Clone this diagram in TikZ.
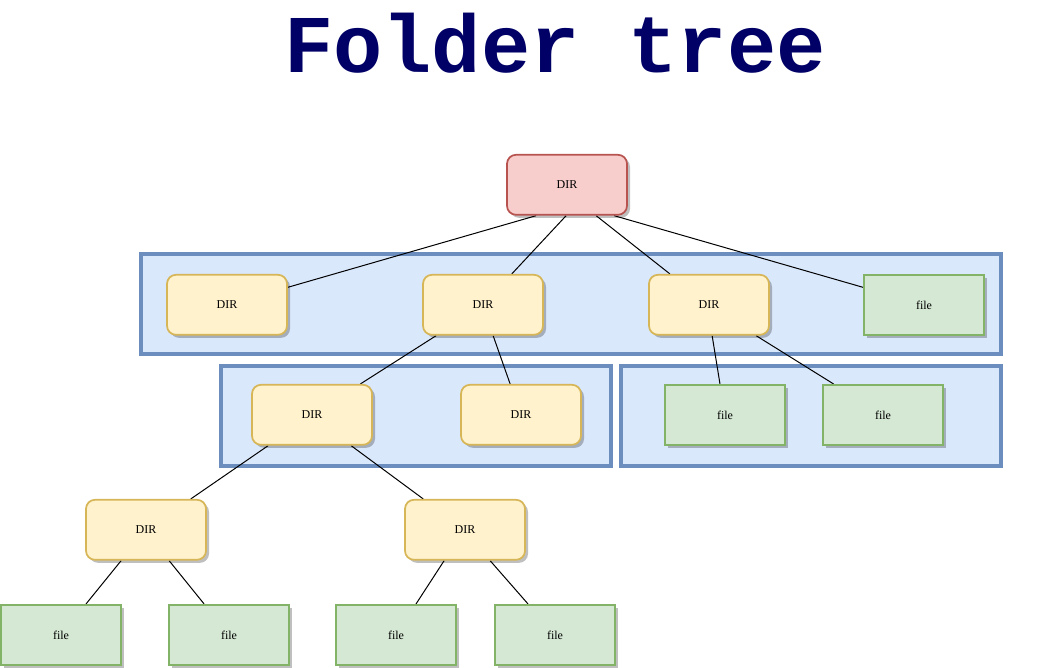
\documentclass[tikz,border=0pt]{standalone}
\usepackage{fontspec}
\setmainfont{Liberation Serif}
\newfontfamily\titlefont{Liberation Mono}
\usetikzlibrary{shadows,calc}
\pgfdeclarelayer{groups}
\pgfdeclarelayer{links}
\pgfsetlayers{groups,links,main}
\definecolor{redfill}{HTML}{F8CECC}
\definecolor{redline}{HTML}{B85450}
\definecolor{yelfill}{HTML}{FFF2CC}
\definecolor{yelline}{HTML}{D6B656}
\definecolor{grnfill}{HTML}{D5E8D4}
\definecolor{grnline}{HTML}{82B366}
\definecolor{bluefill}{HTML}{DAE8FC}
\definecolor{blueline}{HTML}{6C8EBF}
\definecolor{titlecol}{HTML}{000066}
\tikzset{
  boxbase/.style={minimum width=90pt, minimum height=45pt, inner sep=0pt, line width=1.3pt,
    font=\fontsize{9}{10}\selectfont, text depth=0pt, yshift=-0.6pt,
    drop shadow={shadow xshift=2.25pt, shadow yshift=-2.25pt, fill=black, opacity=0.25}},
  rootbox/.style={boxbase, rounded corners=6.75pt, fill=redfill, draw=redline},
  dirbox/.style={boxbase, rounded corners=6.75pt, fill=yelfill, draw=yelline},
  filebox/.style={boxbase, fill=grnfill, draw=grnline},
  groupbox/.style={fill=bluefill, draw=blueline, line width=3pt, inner sep=0pt, minimum height=75pt},
  link/.style={draw=black, line width=0.75pt}
}
\begin{document}
\begin{tikzpicture}[x=0.75pt, y=-0.75pt]
\useasboundingbox (0,0) rectangle (1061,668);
% title
\node[anchor=base, text=titlecol, inner sep=0pt, font=\titlefont\bfseries\fontsize{61.5}{70}\selectfont] (title) at (555,72) {Folder tree};
% containers
\begin{pgfonlayer}{groups}
\node[groupbox, minimum width=645pt] (c1) at (571,304) {};
\node[groupbox, minimum width=292.5pt] (c2) at (416,416) {};
\node[groupbox, minimum width=285pt] (c3) at (811,416) {};
\end{pgfonlayer}
% nodes
\node[rootbox] (root) at (567,184) {DIR};
\node[dirbox] (d1) at (227,304) {DIR};
\node[dirbox] (d2) at (483,304) {DIR};
\node[dirbox] (d3) at (709,304) {DIR};
\node[filebox] (f1) at (924,304) {file};
\node[dirbox] (d4) at (312,414) {DIR};
\node[dirbox] (d5) at (521,414) {DIR};
\node[filebox] (f2) at (725,414) {file};
\node[filebox] (f3) at (883,414) {file};
\node[dirbox] (d6) at (146,529) {DIR};
\node[dirbox] (d7) at (465,529) {DIR};
\node[filebox] (f4) at (61,634) {file};
\node[filebox] (f5) at (229,634) {file};
\node[filebox] (f6) at (396,634) {file};
\node[filebox] (f7) at (555,634) {file};
% edges
\begin{pgfonlayer}{links}
\draw[link] ($(root.south west)+(30,0)$) -- (d1);
\draw[link] ($(root.south west)+(60,0)$) -- (d2);
\draw[link] ($(root.south west)+(90,0)$) -- (d3);
\draw[link] ($(root.south west)+(108,0)$) -- (f1);
\draw[link] ($(d2.south west)+(14,0)$) -- (d4);
\draw[link] ($(d2.south west)+(71,0)$) -- (d5);
\draw[link] ($(d3.south west)+(64,0)$) -- (f2);
\draw[link] ($(d3.south west)+(108,0)$) -- (f3);
\draw[link] ($(d4.south west)+(17,0)$) -- (d6);
\draw[link] ($(d4.south west)+(100,0)$) -- (d7);
\draw[link] ($(d6.south west)+(36,0)$) -- (f4);
\draw[link] ($(d6.south west)+(84,0)$) -- (f5);
\draw[link] ($(d7.south west)+(40,0)$) -- (f6);
\draw[link] ($(d7.south west)+(86,0)$) -- (f7);
\end{pgfonlayer}
\end{tikzpicture}
\end{document}
